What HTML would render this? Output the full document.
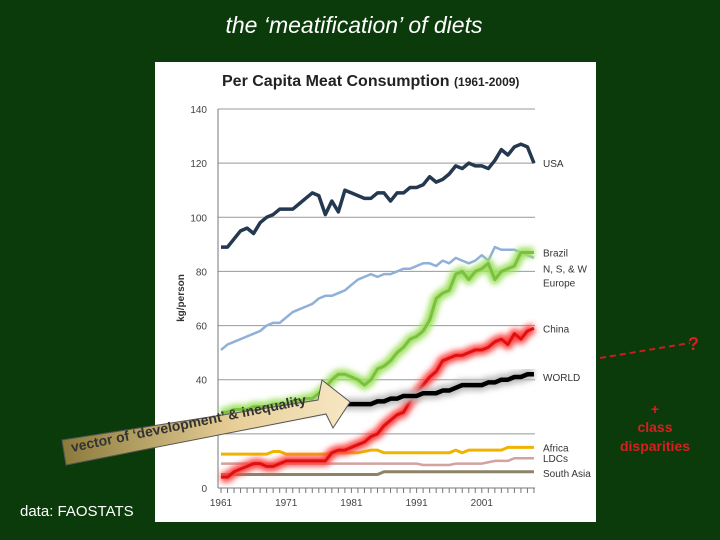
<!DOCTYPE html>
<html><head><meta charset="utf-8"><style>
body{margin:0;background:#0a3a0a;}
#wrap{position:relative;width:720px;height:540px;background:#0b3b0b;overflow:hidden;font-family:"Liberation Sans",sans-serif;}
</style></head><body>
<div id="wrap">
<svg id="svg" width="720" height="540">
<defs>
<filter id="glow" x="-10%" y="-10%" width="120%" height="120%"><feGaussianBlur stdDeviation="3"/></filter>
<linearGradient id="ag" x1="0" y1="0" x2="1" y2="0"><stop offset="0" stop-color="#8a7a3a"/><stop offset="0.6" stop-color="#e8cf98"/><stop offset="1" stop-color="#f6e7c4"/></linearGradient>
</defs>
<text x="354" y="33" fill="#fff" font-size="23" font-style="italic" text-anchor="middle">the ‘meatification’ of diets</text>
<rect x="155" y="62" width="441" height="460" fill="#fff"/>
<text x="222" y="86" font-size="16" font-weight="bold" fill="#222">Per Capita Meat Consumption <tspan font-size="12">(1961-2009)</tspan></text>
<text transform="translate(184,298) rotate(-90)" text-anchor="middle" font-size="10" font-weight="bold" fill="#333">kg/person</text>
<g id="grid"></g><g id="series"></g><g id="labels"></g>
<g>
<polygon points="66,465 62,440 318,400 322,380 350,402 333,428 326,414" fill="url(#ag)" stroke="#555" stroke-width="1"/>
<text transform="translate(72,452) rotate(-11.5)" font-size="14" font-weight="bold" fill="#333">vector of ‘development’ &amp; inequality</text>
</g>
<line x1="600" y1="358" x2="690" y2="343" stroke="#c81e1e" stroke-width="2" stroke-dasharray="6,4"/>
<text x="688" y="350" fill="#d42020" font-size="18" font-weight="bold">?</text>
<text x="655" y="414" fill="#d42020" font-size="14" font-weight="bold" text-anchor="middle">+</text>
<text x="655" y="432" fill="#d42020" font-size="14" font-weight="bold" text-anchor="middle">class</text>
<text x="655" y="451" fill="#d42020" font-size="14" font-weight="bold" text-anchor="middle">disparities</text>
<text x="20" y="516" fill="#fff" font-size="15">data: FAOSTATS</text>
</svg>
</div>
<script>
const years=[];for(let y=1961;y<=2009;y++)years.push(y);
const yTicks=[0,20,40,60,80,100,120,140];
const xTickLabels=[1961,1971,1981,1991,2001];
const usa=[89,89,92,95,96,94,98,100,101,103,103,103,105,107,109,108,101,106,102,110,109,108,107,107,109,109,106,109,109,111,111,112,115,113,114,116,119,118,120,119,119,118,121,125,123,126,127,126,120];
const europe=[51,53,54,55,56,57,58,60,61,61,63,65,66,67,68,70,71,71,72,73,75,77,78,79,78,79,79,80,81,81,82,83,83,82,84,83,85,84,83,84,86,84,89,88,88,88,87,86,85];
const brazil=[28,28,29,29,29,30,30,30,31,31,31,32,32,33,33,35,37,40,42,42,41,40,38,40,44,45,47,50,52,55,56,58,62,70,72,73,79,80,77,80,81,83,77,80,81,82,87,87,87];
const china=[4,4,6,7,8,9,9,8,8,9,10,10,10,10,10,10,10,13,14,14,15,16,17,19,20,23,25,27,28,32,35,38,41,43,47,48,49,49,50,51,51,52,54,55,53,57,55,58,59];
const world=[23,23,24,24,25,25,26,26,27,27,28,28,29,29,29,30,30,30,31,31,31,31,31,31,32,32,33,33,34,34,34,35,35,35,36,36,37,38,38,38,38,39,39,40,40,41,41,42,42];
const africa=[12.5,12.5,12.5,12.5,12.5,12.5,12.5,12.5,13.5,13.5,12.5,12.5,12.5,12.5,12.5,12.5,12.5,13,13,13,13,13,13.5,14,14,13,13,13,13,13,13,13,13,13,13,13,14,13,14,14,14,14,14,14,15,15,15,15,15];
const ldcs=[9,9,9,9,9,9,9,9,9,9,9,9,9,9,9,9,9,9,9,9,9,9,9,9,9,9,9,9,9,9,9,8.5,8.5,8.5,8.5,8.5,9,9,9,9,9,9.5,10,10,10,11,11,11,11];
const sasia=[5,5,5,5,5,5,5,5,5,5,5,5,5,5,5,5,5,5,5,5,5,5,5,5,5,6,6,6,6,6,6,6,6,6,6,6,6,6,6,6,6,6,6,6,6,6,6,6,6];
const NS="http://www.w3.org/2000/svg";
const X=y=>221+(y-1961)*6.52, Y=v=>488-v*(379/140);
function mk(tag,attrs,parent){const e=document.createElementNS(NS,tag);for(const k in attrs)e.setAttribute(k,attrs[k]);parent.appendChild(e);return e;}
const grid=document.getElementById('grid'),ser=document.getElementById('series'),lab=document.getElementById('labels');
yTicks.forEach(t=>{
 if(t>0){const l=mk('line',{x1:218,x2:535,y1:Y(t),y2:Y(t),stroke:'#999','stroke-width':1},grid);
 
 }
 const tx=mk('text',{x:207,y:Y(t)+4,'font-size':10,fill:'#444','text-anchor':'end'},grid);tx.textContent=t;
 
 
});
const ax=mk('line',{x1:218,x2:535,y1:Y(0),y2:Y(0),stroke:'#777'},grid);


mk('line',{x1:218,x2:218,y1:Y(140),y2:Y(0),stroke:'#777'},grid);
years.forEach(y=>{mk('line',{x1:X(y),x2:X(y),y1:Y(0),y2:Y(0)+5,stroke:'#777'},grid);});
xTickLabels.forEach(y=>{const t=mk('text',{x:X(y),y:506,'font-size':10,fill:'#444','text-anchor':'middle'},grid);t.textContent=y;
 
 });
function pts(a){return a.map((v,i)=>X(years[i])+','+Y(v)).join(' ');}
function line(a,color,w,name,glow){
 if(glow){const g=mk('polyline',{points:pts(a),fill:'none',stroke:glow,'stroke-width':w+7,filter:'url(#glow)','stroke-linejoin':'round'},ser);}
 const p=mk('polyline',{points:pts(a),fill:'none',stroke:color,'stroke-width':w,'stroke-linejoin':'round'},ser);
 
 
}
line(sasia,'#8c8466',3,'south-asia-line');
line(ldcs,'#d4a0a0',2.5,'ldcs-line');
line(africa,'#f0b400',3,'africa-line');
line(europe,'#8fb0d8',2.5,'europe-line');
line(usa,'#243850',3.5,'usa-line');
line(brazil,'#7cc040',3,'brazil-line','#9ee060');
line(china,'#e01010',3,'china-line','#ff4040');
line(world,'#000',4.5,'world-line','#bbb');
const L=[["USA",120,0],["Brazil",87,0],["N, S, & W",81,0],["Europe",76,0],["China",59,0],["WORLD",41,0],["Africa",15,0],["LDCs",11,0],["South Asia",5.5,0]];
L.forEach(d=>{const t=mk('text',{x:543,y:Y(d[1])+4,'font-size':10,fill:'#333'},lab);t.textContent=d[0];
 
 });
</script>
</body></html>
